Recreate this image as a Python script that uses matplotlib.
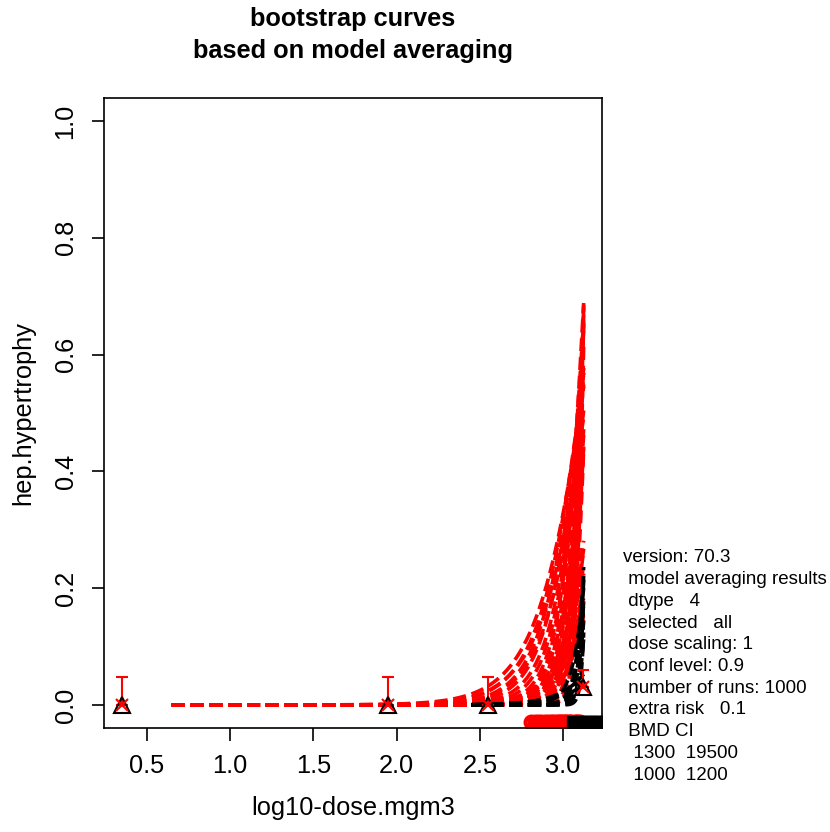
import numpy as np
import matplotlib
matplotlib.use("Agg")
import matplotlib.pyplot as plt

plt.rcParams['font.family'] = ['Liberation Sans', 'DejaVu Sans']

# ---- data ----
dose_log = [0.35, 1.95, 2.55, 3.12]          # log10 dose of observed groups
obs_frac = [0.0, 0.0, 0.0, 0.03]              # observed response fraction
err_upper = [0.048, 0.048, 0.048, 0.06]       # upper CI of observed fraction

red_curve_start = 0.65                        # first log10 dose of red curves
black_curve_start = 2.45                      # first log10 dose of black curves
curve_end = 3.124                             # last log10 dose of the curves

# red bootstrap curves: log10 dose giving 10% extra risk, and steepness
red_bmd10 = [2.76, 2.79, 2.82, 2.85, 2.88, 2.90, 2.80, 2.84,
             2.95, 2.97, 3.00, 3.02, 3.04, 3.06, 2.93, 2.98, 3.01, 3.05,
             2.97, 3.00, 3.03, 3.05, 2.95, 2.92,
             3.05, 3.06, 3.08, 3.04, 3.03, 3.07, 3.02, 3.00, 3.03, 3.06, 2.99]
red_slope = [2.4, 2.7, 3.0, 3.3, 3.6, 4.0, 2.5, 2.9,
             6.0, 6.5, 8.0, 10.0, 12.0, 15.0, 5.2, 7.0, 9.0, 14.0,
             5.0, 6.0, 8.0, 10.0, 4.5, 4.5,
             2.7, 3.5, 4.0, 3.2, 3.0, 5.0, 4.0, 4.0, 5.0, 6.0, 3.5]

# black bootstrap curves
black_bmd10 = [3.09, 3.10, 3.11, 3.10, 3.11, 3.12, 3.12, 3.09, 3.08,
               3.22, 3.32]
black_slope = [12.0, 15.0, 20.0, 10.0, 12.0, 15.0, 25.0, 11.0, 7.5,
               3.0, 2.5]

# bootstrap BMD values drawn as a rug below zero
bmd_red = [2.81, 2.83, 2.85, 2.87, 2.89, 2.91, 2.93, 2.94, 2.96, 2.97,
           2.98, 2.99, 3.00, 3.01, 3.02, 3.03, 3.04, 3.05, 3.07, 3.08, 3.09, 3.10]
bmd_black = [3.06, 3.11, 3.13, 3.15, 3.17, 3.19, 3.21, 3.23, 3.25, 3.27]
bmd_rug_y = -0.029

info_lines = ["version: 70.3", " model averaging results", " dtype   4",
              " selected   all", " dose scaling: 1", " conf level: 0.9",
              " number of runs: 1000", " extra risk   0.1", " BMD CI",
              "  1300  19500", "  1000  1200"]

fig = plt.figure(figsize=(8.30, 8.32), dpi=100)
ax = fig.add_axes([104/830, 1-728/832, (602-104)/830, (728-98)/832])

def curve(xx, x10, b):
    return 1 - np.exp(-0.10536 * 10 ** (b * (xx - x10)))

xr = np.linspace(red_curve_start, curve_end, 500)
xb = np.linspace(black_curve_start, curve_end, 300)

dash = (3.6, 1.6)
for x10, b in zip(red_bmd10, red_slope):
    ax.plot(xr, curve(xr, x10, b), color='red', lw=2.6, dashes=dash)
for x10, b in zip(black_bmd10, black_slope):
    ax.plot(xb, curve(xb, x10, b), color='black', lw=2.6, dashes=dash)

# bmd rug
ax.plot(bmd_red, [bmd_rug_y]*len(bmd_red), 'o', mfc='none', mec='red', ms=8.5, mew=3)
ax.plot(bmd_black, [bmd_rug_y]*len(bmd_black), 's', mfc='black', mec='black', ms=8.5, mew=1)

# observed data
ax.errorbar(dose_log, obs_frac,
            yerr=[[0]*len(obs_frac), [u - o for u, o in zip(err_upper, obs_frac)]],
            fmt='none', ecolor='red', elinewidth=1.5, capsize=4, capthick=1.5)
ax.plot(dose_log, obs_frac, '^', mfc='none', mec='black', ms=12, mew=1.5)
ax.plot(dose_log, obs_frac, 'x', color='red', ms=9, mew=1.5)

ax.set_xlim(0.242, 3.234)
ax.set_ylim(-0.0395, 1.0395)
ax.set_xticks([0.5, 1.0, 1.5, 2.0, 2.5, 3.0])
ax.set_xticklabels(['0.5', '1.0', '1.5', '2.0', '2.5', '3.0'])
ax.set_yticks([0.0, 0.2, 0.4, 0.6, 0.8, 1.0])
ax.set_yticklabels(['0.0', '0.2', '0.4', '0.6', '0.8', '1.0'], rotation=90, va='center')
ax.tick_params(axis='both', direction='out', length=9, width=1.2, labelsize=18.3, pad=10, colors='black')
for s in ax.spines.values():
    s.set_linewidth(1.2)

ax.set_xlabel('log10-dose.mgm3', fontsize=18.3, labelpad=13)
ax.set_ylabel('hep.hypertrophy', fontsize=18.3, labelpad=13)

fig.text(353/830, 1-19/832, 'bootstrap curves', ha='center', va='center',
         fontsize=18.3, fontweight='bold')
fig.text(353/830, 1-51/832, 'based on model averaging', ha='center', va='center',
         fontsize=18.3, fontweight='bold')

y0 = 558
for i, line in enumerate(info_lines):
    fig.text(623/830, 1-(y0 + i*21.7)/832, line, ha='left', va='center', fontsize=13.5)

fig.savefig('out.png', dpi=100)
